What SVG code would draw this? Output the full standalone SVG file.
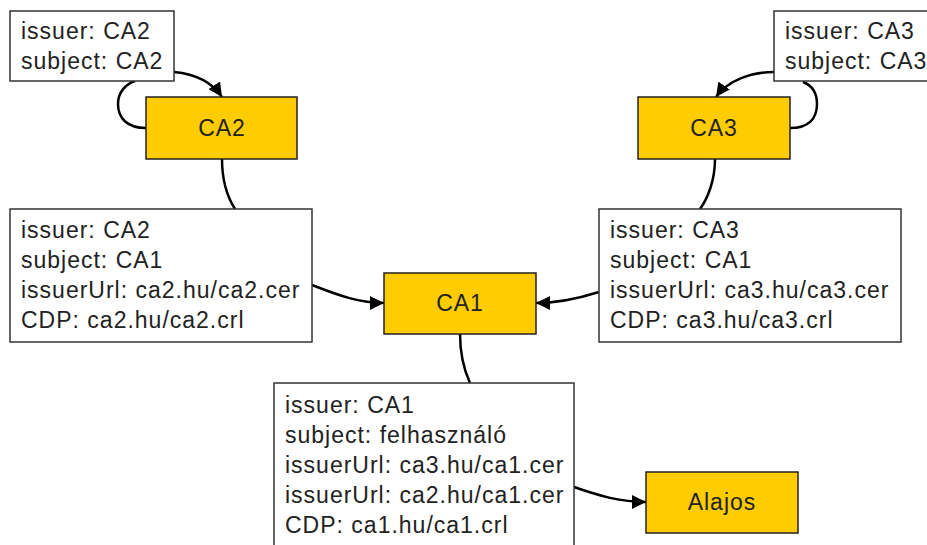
<svg xmlns="http://www.w3.org/2000/svg" width="927" height="545" viewBox="0 0 927 545">
  <defs>
    <marker id="arrow" markerUnits="userSpaceOnUse" markerWidth="15" markerHeight="14" refX="14" refY="7" orient="auto">
      <path d="M0,0 L14,7 L0,14 Z" fill="#000"/>
    </marker>
  </defs>
  <style>
    .ca { fill: #ffcc00; stroke: #222; stroke-width: 1.5; }
    .cert { fill: #fff; stroke: #333; stroke-width: 1.5; }
    text { font-family: "Liberation Sans", Arial, sans-serif; font-size: 23px; letter-spacing: 1px; fill: #222; }
    .mid { text-anchor: middle; }
    .edge { fill: none; stroke: #000; stroke-width: 2.5; }
  </style>
  <rect width="927" height="545" fill="#fff"/>

  <!-- connectors -->
  <g id="connectors">
    <path class="edge" d="M146,128 C127,128 118,118 118,104 C118,92 126,84 135,81"/>
    <path class="edge" d="M174,72 C195,74 212,82 222,97" marker-end="url(#arrow)"/>
    <path class="edge" d="M222,159 C222,180 228,198 235,209"/>
    <path class="edge" d="M312,285 C340,296 360,303 384,303" marker-end="url(#arrow)"/>
    <path class="edge" d="M790,128 C809,128 817,118 817,104 C817,92 811,85 803,82"/>
    <path class="edge" d="M774,72 C752,72 728,80 716,97" marker-end="url(#arrow)"/>
    <path class="edge" d="M715,159 C715,180 708,198 700,209"/>
    <path class="edge" d="M599,292 C580,298 560,303 536,303" marker-end="url(#arrow)"/>
    <path class="edge" d="M460,334 C460,355 465,372 470,383"/>
    <path class="edge" d="M574,487 C600,496 620,502 646,502" marker-end="url(#arrow)"/>
  </g>

  <!-- self-signed CA2 certificate -->
  <g id="cert-ca2-ca2">
    <rect class="cert" x="10" y="11" width="164" height="70"/>
    <text x="21" y="39">issuer: CA2</text>
    <text x="21" y="69">subject: CA2</text>
  </g>

  <!-- self-signed CA3 certificate -->
  <g id="cert-ca3-ca3">
    <rect class="cert" x="774" y="11" width="170" height="70"/>
    <text x="785" y="39">issuer: CA3</text>
    <text x="785" y="69">subject: CA3</text>
  </g>

  <g id="node-ca2">
    <rect class="ca" x="146" y="97" width="151" height="62"/>
    <text class="mid" x="222" y="136">CA2</text>
  </g>

  <g id="node-ca3">
    <rect class="ca" x="638" y="97" width="152" height="62"/>
    <text class="mid" x="714" y="136">CA3</text>
  </g>

  <!-- CA1 cross certificate issued by CA2 -->
  <g id="cert-ca2-ca1">
    <rect class="cert" x="10" y="209" width="302" height="133"/>
    <text x="21" y="238">issuer: CA2</text>
    <text x="21" y="268">subject: CA1</text>
    <text x="21" y="298">issuerUrl: ca2.hu/ca2.cer</text>
    <text x="21" y="328">CDP: ca2.hu/ca2.crl</text>
  </g>

  <!-- CA1 cross certificate issued by CA3 -->
  <g id="cert-ca3-ca1">
    <rect class="cert" x="599" y="209" width="302" height="133"/>
    <text x="610" y="238">issuer: CA3</text>
    <text x="610" y="268">subject: CA1</text>
    <text x="610" y="298">issuerUrl: ca3.hu/ca3.cer</text>
    <text x="610" y="328">CDP: ca3.hu/ca3.crl</text>
  </g>

  <g id="node-ca1">
    <rect class="ca" x="384" y="273" width="152" height="61"/>
    <text class="mid" x="460" y="311">CA1</text>
  </g>

  <!-- end-user certificate issued by CA1 -->
  <g id="cert-ca1-user">
    <rect class="cert" x="274" y="383" width="300" height="200"/>
    <text x="285" y="413">issuer: CA1</text>
    <text x="285" y="443">subject: felhasználó</text>
    <text x="285" y="473">issuerUrl: ca3.hu/ca1.cer</text>
    <text x="285" y="503">issuerUrl: ca2.hu/ca1.cer</text>
    <text x="285" y="533">CDP: ca1.hu/ca1.crl</text>
  </g>

  <g id="node-alajos">
    <rect class="ca" x="646" y="472" width="152" height="61"/>
    <text class="mid" x="722" y="510">Alajos</text>
  </g>
</svg>
